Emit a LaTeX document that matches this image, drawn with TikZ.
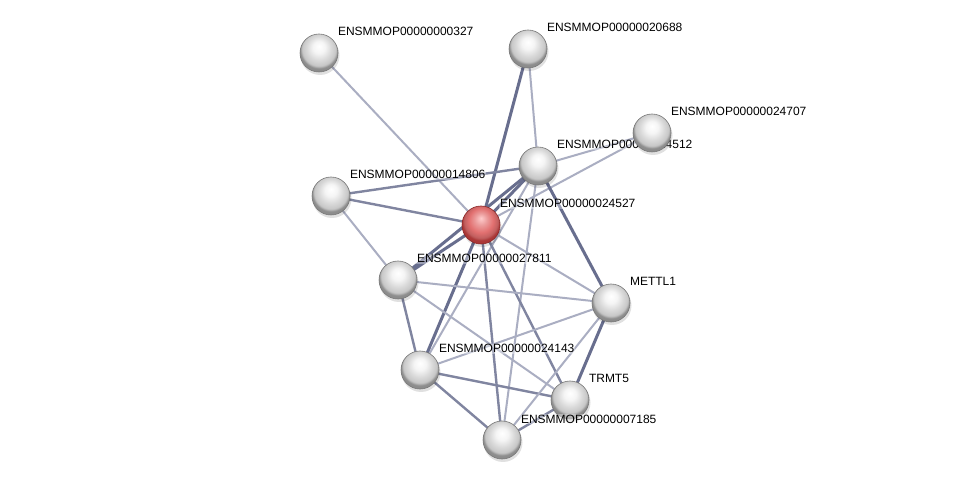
\documentclass[tikz,border=0pt]{standalone}
\usepackage{fontspec}
\setmainfont{Liberation Sans}
\usetikzlibrary{calc}
\definecolor{estrong}{RGB}{104,110,142}
\definecolor{emed}{RGB}{128,133,160}
\definecolor{eweak}{RGB}{170,174,194}
\definecolor{rimgray}{RGB}{120,120,120}
\definecolor{redbody}{RGB}{226,112,112}
\definecolor{reddark}{RGB}{170,55,55}
\definecolor{redrim}{RGB}{140,40,40}
\pgfdeclareradialshading{gball}{\pgfpoint{0bp}{9bp}}{color(0bp)=(white); color(8bp)=(white!96!black); color(16bp)=(white!85!black); color(22bp)=(white!78!black); color(25bp)=(white!55!black); color(50bp)=(white!55!black)}
\pgfdeclareradialshading{rball}{\pgfpoint{0bp}{9bp}}{color(0bp)=(red!20!white); color(8bp)=(redbody!70!white); color(16bp)=(redbody); color(22bp)=(redbody!85!black); color(25bp)=(reddark); color(50bp)=(reddark)}
\tikzset{
  pnode/.style={circle, minimum size=38pt, inner sep=0pt, shading=gball, draw=rimgray, line width=0.6pt},
  rnode/.style={circle, minimum size=38pt, inner sep=0pt, shading=rball, draw=redrim, line width=0.6pt},
  lbl/.style={anchor=base west, inner sep=0.8pt, fill=white, fill opacity=0.35, text opacity=1, font=\fontsize{12}{14}\selectfont},
  strong/.style={estrong, line width=3pt},
  medium/.style={emed, line width=2.4pt},
  weak/.style={eweak, line width=2pt},
  shadowc/.style={black, opacity=0.12},
}
\begin{document}
\begin{tikzpicture}[x=1pt,y=1pt]
\useasboundingbox (0,0) rectangle (975,485);
\fill[white] (0,0) rectangle (975,485);
% coordinates of node centres
\coordinate (A) at (319,432);
\coordinate (B) at (528,436);
\coordinate (C) at (652,352);
\coordinate (D) at (538,319);
\coordinate (E) at (331,289);
\coordinate (R) at (481,260);
\coordinate (F) at (398,205);
\coordinate (M) at (611,182);
\coordinate (G) at (420,115);
\coordinate (T) at (570,85);
\coordinate (H) at (502,45);
% edges
\draw[weak] (A) -- (R);
\draw[strong] (B) -- (R);
\draw[weak] (B) -- (D);
\draw[weak] (C) -- (D);
\draw[weak] (C) -- (R);
\draw[medium] (E) -- (D);
\draw[medium] (E) -- (R);
\draw[weak] (E) -- (F);
\draw[strong] (D) -- (R);
\draw[strong] (D) -- (F);
\draw[strong] (D) -- (M);
\draw[weak] (D) -- (G);
\draw[weak] (D) -- (H);
\draw[strong] (R) -- (F);
\draw[weak] (R) -- (M);
\draw[strong] (R) -- (G);
\draw[medium] (R) -- (H);
\draw[medium] (R) -- (T);
\draw[weak] (F) -- (M);
\draw[medium] (F) -- (G);
\draw[weak] (F) -- (T);
\draw[weak] (G) -- (M);
\draw[medium] (G) -- (T);
\draw[medium] (G) -- (H);
\draw[strong] (M) -- (T);
\draw[weak] (M) -- (H);
\draw[medium] (T) -- (H);
% nodes with their labels (drawing order matters for overlaps)
\foreach \n/\t in {A/ENSMMOP00000000327, B/ENSMMOP00000020688, D/ENSMMOP00000024512, C/ENSMMOP00000024707, E/ENSMMOP00000014806, F/ENSMMOP00000027811, M/METTL1, G/ENSMMOP00000024143, T/TRMT5, H/ENSMMOP00000007185} {
  \fill[shadowc] ($(\n)+(1,-2.5)$) circle (19.5);
  \node[pnode] (n\n) at (\n) {};
  \node[lbl] (l\n) at ($(\n)+(18,17)$) {\t};
}
\fill[shadowc] ($(R)+(1,-2.5)$) circle (19.5);
\node[rnode] (nR) at (R) {};
\node[lbl] (lR) at ($(R)+(18,17)$) {ENSMMOP00000024527};
\end{tikzpicture}
\end{document}
